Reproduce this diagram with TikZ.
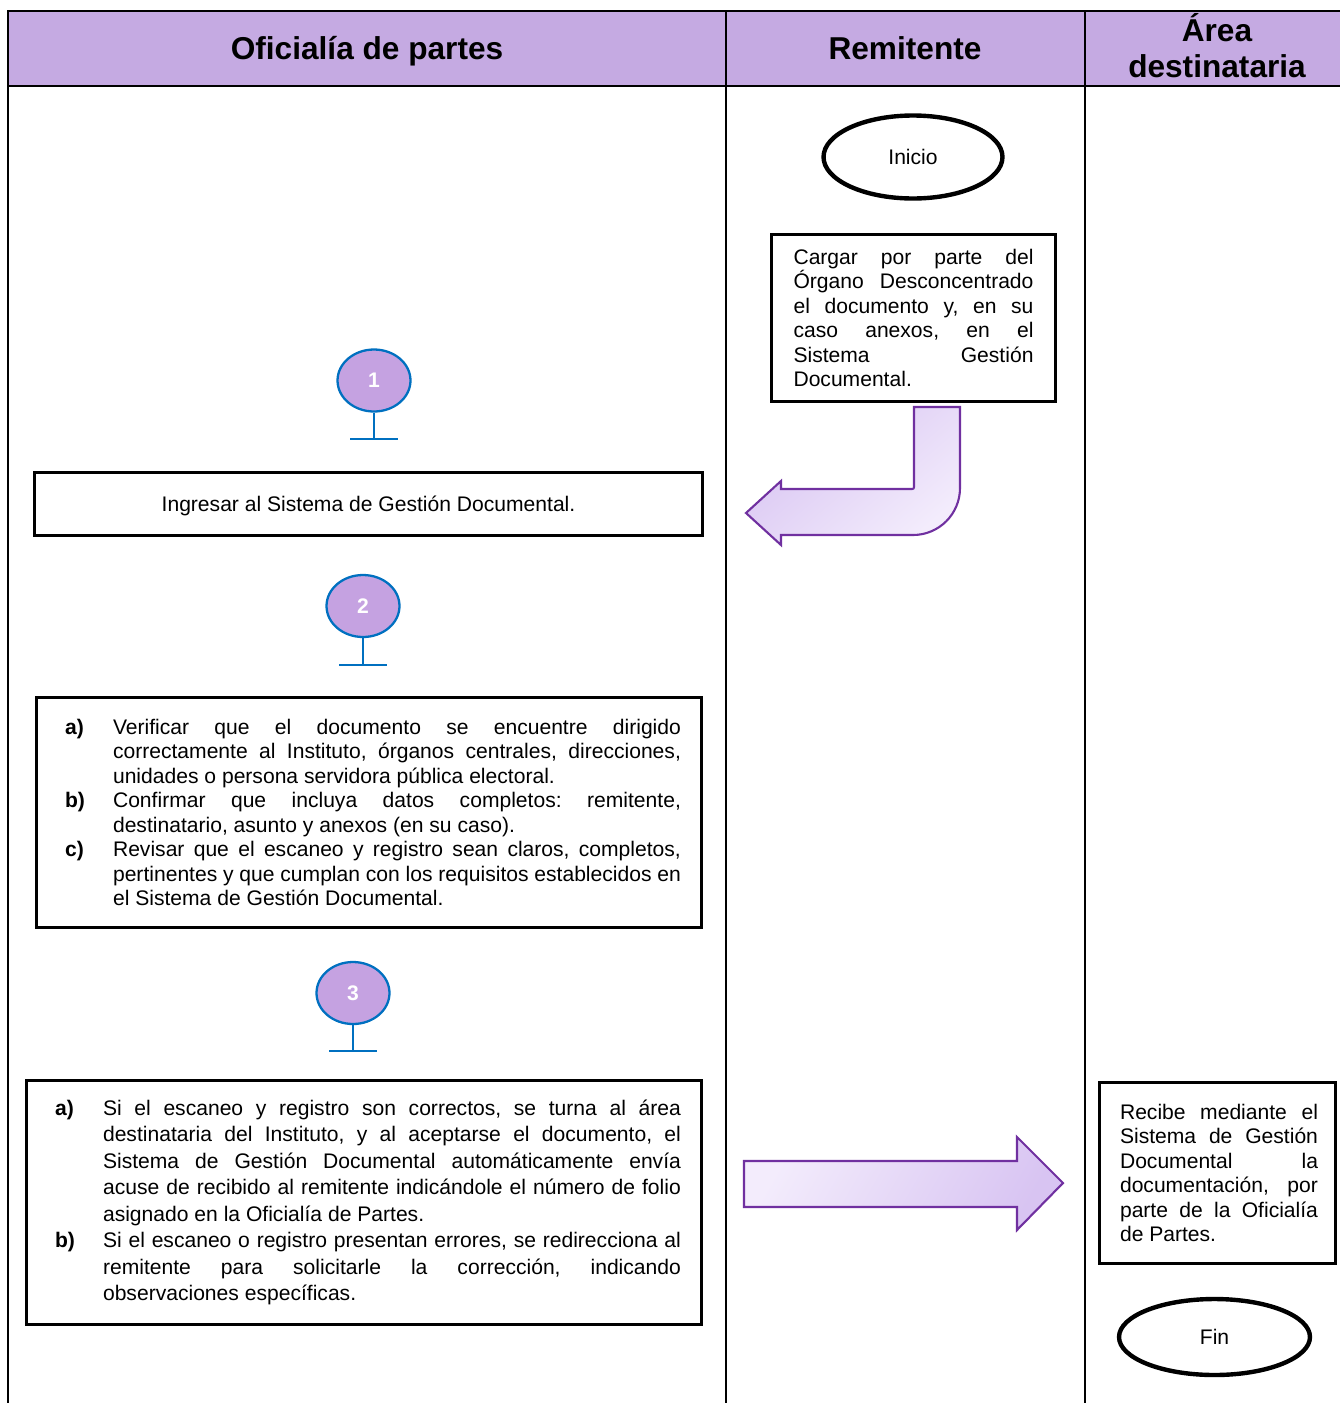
\documentclass[tikz,border=0pt]{standalone}
\usepackage{fontspec}
\setmainfont{Liberation Sans}
\usetikzlibrary{shapes.geometric}

\definecolor{headfill}{RGB}{197,170,226}
\definecolor{stepfill}{RGB}{197,162,225}
\definecolor{stepline}{RGB}{0,112,192}
\definecolor{arrowline}{RGB}{112,48,160}
\definecolor{arrowlight}{RGB}{243,236,252}
\definecolor{arrowdark}{RGB}{216,196,242}

% one justified line of a given width, and a closing (ragged) line
\newcommand\jline[2]{\makebox[#1][s]{#2}\par}
\newcommand\lastline[2]{\makebox[#1][l]{#2}\par}
% list line: label column + justified / ragged text
\newcommand\itemj[3]{\makebox[0.96cm][l]{\bfseries #1}\makebox[#2][s]{#3}\par}
\newcommand\iteml[3]{\makebox[0.96cm][l]{\bfseries #1}\makebox[#2][l]{#3}\par}

\begin{document}
\begin{tikzpicture}[x=0.02cm,y=-0.02cm,
  lane/.style={line width=1.1pt,black},
  headtext/.style={font=\fontsize{18}{20.5}\selectfont\bfseries,align=center,inner sep=0pt},
  task/.style={draw,line width=1.7pt,rectangle,inner sep=0pt,font=\fontsize{12}{13.9}\selectfont\frenchspacing},
  terminal/.style={draw,line width=2.5pt,ellipse,inner sep=0pt,font=\fontsize{12}{14}\selectfont},
  stepmark/.style={draw=stepline,fill=stepfill,line width=1.3pt,ellipse,inner sep=0pt,
    minimum width=1.46cm,minimum height=1.24cm,text=white,font=\fontsize{12}{14}\selectfont\bfseries},
  stepstem/.style={draw=stepline,line width=1.3pt},
  blockarrow/.style={draw=arrowline,line width=1.2pt,line join=miter,shading=axis},
]
\useasboundingbox (0,0) rectangle (1340,1403);

% swimlane table
\fill[headfill] (8,11) rectangle (1340,86);
\draw[lane] (8,1403) -- (8,11) -- (1340,11);
\draw[lane] (8,86) -- (1340,86);
\draw[lane] (726,11) -- (726,1403);
\draw[lane] (1085,11) -- (1085,1403);

\node[headtext,text depth=0pt] (h1) at (367,48) {Oficialía de partes};
\node[headtext] (h2) at (905,48) {Remitente};
\node[headtext] (h3) at (1217,46) {Área\\destinataria};

% Remitente lane
\node[terminal,minimum width=3.58cm,minimum height=1.66cm] (inicio) at (913,157) {Inicio};

\node[task,minimum width=5.68cm,minimum height=3.34cm] (cargar) at (913.5,318) {\parbox{4.8cm}{%
  \jline{4.8cm}{Cargar por parte del}%
  \jline{4.8cm}{Órgano Desconcentrado}%
  \jline{4.8cm}{el documento y, en su}%
  \jline{4.8cm}{caso anexos, en el}%
  \jline{4.8cm}{Sistema Gestión}%
  \lastline{4.8cm}{Documental.}}};

% bent block arrow from the upload step towards the first office step
\path[blockarrow,top color=arrowdark,bottom color=arrowlight,shading angle=40]
  (914,407) -- (960,407) -- (960,488)
  .. controls (960,514) and (939,535) .. (913,535)
  -- (781,535) -- (781,545) -- (746,513) -- (781,481) -- (781,489)
  -- (910,489) .. controls (914,489) .. (914,485) -- cycle;

% Oficialía de partes lane
\node[stepmark] (s1) at (374,380.5) {1};
\coordinate (s1b) at (374,439);
\draw[stepstem] (s1.south) -- (s1b);
\draw[stepstem] ([xshift=-24*0.02cm]s1b) -- ([xshift=24*0.02cm]s1b);

\node[task,minimum width=13.36cm,minimum height=1.26cm,text depth=0pt] (ingresar) at (368.5,504)
  {Ingresar al Sistema de Gestión Documental.};

\node[stepmark] (s2) at (363,606) {2};
\coordinate (s2b) at (363,665);
\draw[stepstem] (s2.south) -- (s2b);
\draw[stepstem] ([xshift=-24*0.02cm]s2b) -- ([xshift=24*0.02cm]s2b);

\node[task,minimum width=13.3cm,minimum height=4.6cm] (verificar) at (369,812.5) {\hspace*{0.16cm}\parbox{12.32cm}{%
  \itemj{a)}{11.36cm}{Verificar que el documento se encuentre dirigido}%
  \itemj{}{11.36cm}{correctamente al Instituto, órganos centrales, direcciones,}%
  \iteml{}{11.36cm}{unidades o persona servidora pública electoral.}%
  \itemj{b)}{11.36cm}{Confirmar que incluya datos completos: remitente,}%
  \iteml{}{11.36cm}{destinatario, asunto y anexos (en su caso).}%
  \itemj{c)}{11.36cm}{Revisar que el escaneo y registro sean claros, completos,}%
  \itemj{}{11.36cm}{pertinentes y que cumplan con los requisitos establecidos en}%
  \iteml{}{11.36cm}{el Sistema de Gestión Documental.}}};

\node[stepmark] (s3) at (353,993) {3};
\coordinate (s3b) at (353,1051);
\draw[stepstem] (s3.south) -- (s3b);
\draw[stepstem] ([xshift=-24*0.02cm]s3b) -- ([xshift=24*0.02cm]s3b);

\node[task,minimum width=13.5cm,minimum height=4.88cm,font=\fontsize{12}{15.1}\selectfont\frenchspacing] (turnar) at (364,1202.5) {\hspace*{0.16cm}\parbox{12.52cm}{%
  \itemj{a)}{11.56cm}{Si el escaneo y registro son correctos, se turna al área}%
  \itemj{}{11.56cm}{destinataria del Instituto, y al aceptarse el documento, el}%
  \itemj{}{11.56cm}{Sistema de Gestión Documental automáticamente envía}%
  \itemj{}{11.56cm}{acuse de recibido al remitente indicándole el número de folio}%
  \iteml{}{11.56cm}{asignado en la Oficialía de Partes.}%
  \itemj{b)}{11.56cm}{Si el escaneo o registro presentan errores, se redirecciona al}%
  \itemj{}{11.56cm}{remitente para solicitarle la corrección, indicando}%
  \iteml{}{11.56cm}{observaciones específicas.}}};

% block arrow towards the receiving area
\path[blockarrow,top color=arrowlight,bottom color=arrowdark,shading angle=60]
  (744,1161) -- (1017,1161) -- (1017,1137) -- (1063,1183)
  -- (1017,1230) -- (1017,1207) -- (744,1207) -- cycle;

% Área destinataria lane
\node[task,minimum width=4.72cm,minimum height=3.62cm] (recibe) at (1217.5,1173) {\hspace*{0.06cm}\parbox{3.96cm}{%
  \jline{3.96cm}{Recibe mediante el}%
  \jline{3.96cm}{Sistema de Gestión}%
  \jline{3.96cm}{Documental la}%
  \jline{3.96cm}{documentación, por}%
  \jline{3.96cm}{parte de la Oficialía}%
  \lastline{3.96cm}{de Partes.}}};

\node[terminal,minimum width=3.82cm,minimum height=1.52cm] (fin) at (1214.5,1337) {Fin};
\end{tikzpicture}
\end{document}
